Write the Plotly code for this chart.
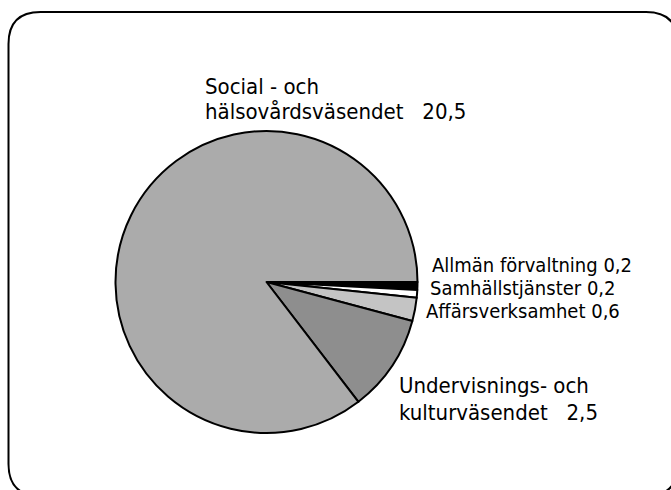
import plotly.graph_objects as go

# ---- data ----
categories = ["Allmän förvaltning", "Samhällstjänster", "Affärsverksamhet",
              "Undervisnings- och kulturväsendet", "Social - och hälsovårdsväsendet"]
values = [0.2, 0.2, 0.6, 2.5, 20.5]
# how each label is split into lines on the chart
label_lines = [["Allmän förvaltning"], ["Samhällstjänster"], ["Affärsverksamhet"],
               ["Undervisnings- och", "kulturväsendet"], ["Social - och", "hälsovårdsväsendet"]]

colors = ["#000000", "#ffffff", "#c4c4c4", "#8e8e8e", "#ababab"]

W, H = 671, 490
FONT = "Liberation Sans Narrow, DejaVu Sans Condensed, Arial Narrow, sans-serif"

def px(x):
    return x / W

def py(y):
    return 1 - y / H

cx, cy, r = 266.5, 282, 151

fig = go.Figure()
fig.add_trace(go.Pie(
    labels=categories, values=values, sort=False, direction="clockwise",
    rotation=90, textinfo="none", hoverinfo="label+value",
    marker=dict(colors=colors, line=dict(color="#000000", width=2)),
    domain=dict(x=[px(cx - r), px(cx + r)], y=[py(cy + r), py(cy - r)]),
    showlegend=False,
))

def fmt(v):
    return f"{v:.1f}".replace(".", ",")

# label placement (pixel positions: left x, vertical centre of each line, font size)
placements = [
    [(430, 265, 20)],
    [(428, 288, 20)],
    [(424, 311, 20)],
    [(397, 385, 22), (397, 412, 22)],
    [(203, 86, 22), (203, 112, 22)],
]
gaps = [" ", " ", " ", "\u00a0\u00a0 ", "\u00a0\u00a0 "]

ann = []
for i, lines in enumerate(label_lines):
    for j, line in enumerate(lines):
        txt = line
        if j == len(lines) - 1:
            txt = line + gaps[i] + fmt(values[i])
        x, y, fs = placements[i][j]
        ann.append(dict(text=txt, x=px(x), y=py(y), xref="paper", yref="paper",
                        xanchor="left", yanchor="middle", showarrow=False,
                        font=dict(family=FONT, size=fs, color="#000000")))

# rounded frame
L, T, R_, B, rad = 8.5, 12, 678, 496, 32
path = (f"M {px(L)},{py(T+rad)} Q {px(L)},{py(T)} {px(L+rad)},{py(T)} "
        f"L {px(R_-rad)},{py(T)} Q {px(R_)},{py(T)} {px(R_)},{py(T+rad)} "
        f"L {px(R_)},{py(B-rad)} Q {px(R_)},{py(B)} {px(R_-rad)},{py(B)} "
        f"L {px(L+rad)},{py(B)} Q {px(L)},{py(B)} {px(L)},{py(B-rad)} Z")

fig.update_layout(
    width=W, height=H,
    margin=dict(l=0, r=0, t=0, b=0),
    paper_bgcolor="#ffffff", plot_bgcolor="#ffffff",
    annotations=ann,
    shapes=[dict(type="path", path=path, xref="paper", yref="paper",
                 line=dict(color="#000000", width=2), layer="below")],
)

fig.write_html("out.html",
               config={"displayModeBar": False},
               post_script="document.body.style.margin='0';document.body.style.overflow='hidden';")
